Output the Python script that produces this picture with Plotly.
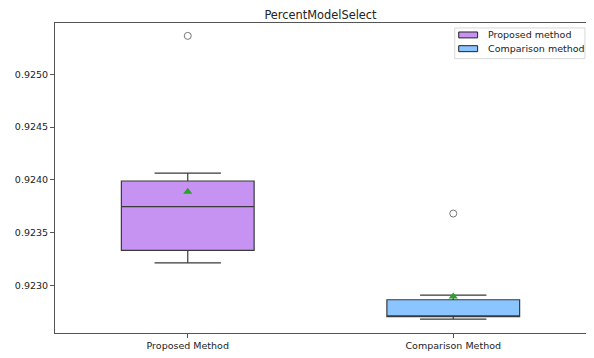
import plotly.graph_objects as go

categories = ["Proposed Method", "Comparison Method"]
legend_names = ["Proposed method", "Comparison method"]
q1 = [0.923334, 0.922705]
median = [0.923748, 0.922712]
q3 = [0.923990, 0.922866]
lowerfence = [0.923215, 0.922683]
upperfence = [0.924065, 0.922910]
means = [0.923888, 0.922897]
outliers = [[0.925364], [0.923682]]
fill_colors = ["#C793F2", "#8AC5FF"]
y_ticks = [0.9230, 0.9235, 0.9240, 0.9245, 0.9250]

fig = go.Figure()
for i, cat in enumerate(categories):
    fig.add_trace(go.Box(
        x=[cat], q1=[q1[i]], median=[median[i]], q3=[q3[i]],
        lowerfence=[lowerfence[i]], upperfence=[upperfence[i]],
        name=legend_names[i], fillcolor=fill_colors[i],
        line=dict(color="#3a3a3a", width=1.2), width=0.5, whiskerwidth=0.5,
        boxpoints=False, hoverinfo="skip", showlegend=False,
    ))
for i, cat in enumerate(categories):
    fig.add_trace(go.Scatter(
        x=[cat] * len(outliers[i]), y=outliers[i], mode="markers",
        marker=dict(symbol="circle-open", size=7, color="#777777", line=dict(width=1)),
        showlegend=False, hoverinfo="skip",
    ))
    fig.add_trace(go.Scatter(
        x=[cat], y=[means[i]], mode="markers",
        marker=dict(symbol="triangle-up", size=8, color="#2CA02C"),
        showlegend=False, hoverinfo="skip",
    ))

# Manual legend (matplotlib-style) in paper coordinates
shapes = [dict(type="rect", xref="paper", yref="paper", x0=0.7528, x1=0.998, y0=0.885, y1=0.984,
               line=dict(color="#d8d8d8", width=1), fillcolor="rgba(255,255,255,0.85)", layer="above")]
annotations = []
row_y = [(0.971, 0.952, 0.9618), (0.9268, 0.9076, 0.9172)]
for i, name in enumerate(legend_names):
    top, bot, mid = row_y[i]
    shapes.append(dict(type="rect", xref="paper", yref="paper", x0=0.7603, x1=0.7959, y0=bot, y1=top,
                       line=dict(color="#222222", width=1), fillcolor=fill_colors[i], layer="above"))
    annotations.append(dict(text=name, xref="paper", yref="paper", x=0.8109, y=mid,
                            xanchor="left", yanchor="middle", showarrow=False,
                            font=dict(size=9.5, color="#222222")))

fig.update_layout(
    width=586, height=350,
    margin=dict(l=45, r=7, t=15, b=21),
    paper_bgcolor="white", plot_bgcolor="white",
    font=dict(family="DejaVu Sans", size=9.5, color="#222222"),
    title=dict(text="PercentModelSelect", x=0.5, xref="paper", xanchor="center",
               y=0.98, yref="container", yanchor="middle", pad=dict(t=0, b=0),
               font=dict(size=11.4, color="#222222")),
    boxmode="overlay",
    showlegend=False,
    shapes=shapes,
    annotations=annotations,
)
fig.update_xaxes(
    type="category", categoryorder="array", categoryarray=categories,
    range=[-0.5, 1.5], showgrid=False, zeroline=False,
    showline=True, linecolor="#555555", linewidth=1, mirror=True,
    ticks="outside", ticklen=4, tickcolor="#555555",
)
fig.update_yaxes(
    range=[0.922551, 0.925486], tickvals=y_ticks, tickformat=".4f",
    showgrid=False, zeroline=False,
    showline=True, linecolor="#555555", linewidth=1, mirror=True,
    ticks="outside", ticklen=4, tickcolor="#555555",
)

fig.write_html("out.html")
